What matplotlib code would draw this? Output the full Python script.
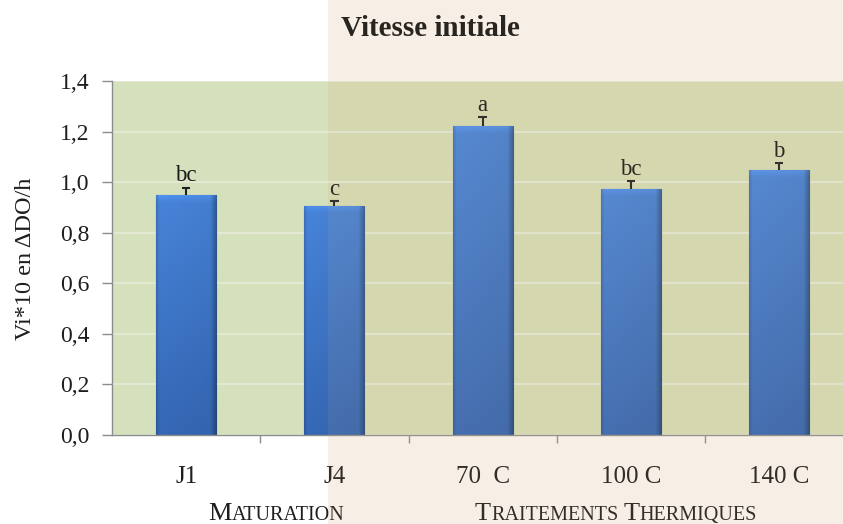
import numpy as np
import matplotlib
matplotlib.use("Agg")
import matplotlib.pyplot as plt
from matplotlib.patches import Rectangle

categories = ["J1", "J4", "70  C", "100 C", "140 C"]
values = [0.949, 0.907, 1.222, 0.973, 1.048]
errors = [0.028, 0.018, 0.035, 0.031, 0.027]
letters = ["bc", "c", "a", "bc", "b"]
yticks = [0.0, 0.2, 0.4, 0.6, 0.8, 1.0, 1.2, 1.4]
ytick_labels = ["0,0", "0,2", "0,4", "0,6", "0,8", "1,0", "1,2", "1,4"]
title = "Vitesse initiale"
ylabel = "Vi*10 en \u0394DO/h"
groups = [("MATURATION", 276), ("TRAITEMENTS THERMIQUES", 616)]

W, H = 843, 524
FONT = "Liberation Serif"
plt.rcParams["font.family"] = [FONT, "DejaVu Serif"]

fig = plt.figure(figsize=(W / 100, H / 100), dpi=100)
fig.patch.set_facecolor("white")

split_px = 328
# peach base on the right part of the figure
fig.patches.append(Rectangle((split_px / W, 0), 1 - split_px / W, 1, transform=fig.transFigure,
                             facecolor=(250 / 255, 246 / 255, 240 / 255),
                             edgecolor="none", zorder=-1))

left, right, top, bottom = 112, 843, 81, 435
ax = fig.add_axes([left / W, 1 - bottom / H, (right - left) / W, (bottom - top) / H])
ax.set_facecolor("#d5e0bd")

x = np.arange(len(categories))
step = 148.25
xmax = -0.5 + (right - left) / step
xsplit = -0.5 + (split_px - left) / step
ax.axvspan(xsplit, xmax, color=(213 / 255, 220 / 255, 180 / 255), lw=0, zorder=0)

bars = ax.bar(x, values, width=0.405, color="#4a82c8", edgecolor="#274f80",
              linewidth=0.8, zorder=2)

# gradient fill for bars
for b in bars:
    x0 = b.get_x(); w = b.get_width(); h = b.get_height()
    ny, nx = 300, 60
    yy = np.linspace(0, 1, ny)[:, None]   # 0 top, 1 bottom
    xx = np.linspace(0, 1, nx)[None, :]
    top_c = np.array([70, 130, 214]) / 255
    bot_c = np.array([52, 102, 178]) / 255
    vert = top_c[None, None, :] * (1 - yy[..., None]) + bot_c[None, None, :] * yy[..., None]
    hf = 1.02 - 0.05 * xx - 0.30 * np.clip((xx - 0.9) / 0.1, 0, 1)
    hf = hf - 0.15 * np.clip((0.05 - xx) / 0.05, 0, 1)
    img = vert * hf[..., None]
    frac = 0.03 / h
    bev = np.clip(1 - yy / frac, 0, 1)
    img = img * (1 + 0.10 * bev[..., None])
    img = np.clip(img, 0, 1)
    im = ax.imshow(img, extent=[x0, x0 + w, 0, h], aspect="auto", zorder=2.1,
                   interpolation="bilinear")
    im.set_clip_path(b)

# upper error bars only (T shape)
cap = 0.028
tops = [v + e for v, e in zip(values, errors)]
ax.vlines(x, values, tops, colors="#222222", linewidth=1.5, zorder=3)
ax.hlines(tops, x - cap, x + cap, colors="#222222", linewidth=1.5, zorder=3)

for xi, tp, t in zip(x, tops, letters):
    ax.text(xi, tp + 0.026, t, ha="center", va="baseline", fontsize=16.5,
            color="#1a1a1a", zorder=4)

ax.set_xlim(-0.5, xmax)
ax.set_ylim(0, 1.4)
ax.set_yticks(yticks)
ax.set_yticklabels(ytick_labels, fontsize=17, color="#1e1e1e")
ax.set_xticks(x)
ax.set_xticklabels(categories, fontsize=18, color="#1e1e1e")
ax.set_xticks(np.arange(len(categories) - 1) + 0.5, minor=True)
ax.tick_params(axis="x", which="major", length=0, pad=22)
ax.tick_params(axis="x", which="minor", length=6, color="#8c8c8c", width=1)
ax.tick_params(axis="y", length=7, color="#8c8c8c", width=1, pad=9)
for s in ["top", "right"]:
    ax.spines[s].set_visible(False)
for s in ["left", "bottom"]:
    ax.spines[s].set_color("#8c8c8c")
    ax.spines[s].set_linewidth(1.0)
ax.yaxis.grid(True, color="#e2e8d2", linewidth=1.5, zorder=0.5)
ax.set_axisbelow(True)

fig.text(430 / W, 1 - 28 / H, title, ha="center", va="center", fontsize=21,
         fontweight="bold", color="#141414")
fig.text(26 / W, 1 - 259 / H, ylabel, ha="center", va="center", rotation=90,
         fontsize=17.5, color="#1e1e1e")

# small caps group labels
renderer = fig.canvas.get_renderer()
def small_caps(text, xc, ybase, big=19, small=14.5):
    pieces = []
    for wi, word in enumerate(text.split(" ")):
        if wi > 0:
            pieces.append((" ", small))
        pieces.append((word[0], big))
        if len(word) > 1:
            pieces.append((word[1:], small))
    objs = []
    for s, fs in pieces:
        t = fig.text(0, ybase / H, s, fontsize=fs, va="baseline", ha="left",
                     color="#1e1e1e")
        objs.append(t)
    widths = []
    for t, (s, fs) in zip(objs, pieces):
        if s == " ":
            widths.append(fs * 0.25 * 100 / 72)
        else:
            widths.append(t.get_window_extent(renderer).width)
    total = sum(widths)
    xpos = xc - total / 2
    for t, wdt in zip(objs, widths):
        t.set_x(xpos / W)
        xpos += wdt

for name, xc in groups:
    small_caps(name, xc, 4)

# light peach overlay over the right part (mutes the bars a little)
fig.patches.append(Rectangle((split_px / W, 0), 1 - split_px / W, 1, transform=fig.transFigure,
                             facecolor=(222 / 255, 180 / 255, 138 / 255), alpha=0.10,
                             edgecolor="none", zorder=10))

fig.savefig("out.png", dpi=100)
